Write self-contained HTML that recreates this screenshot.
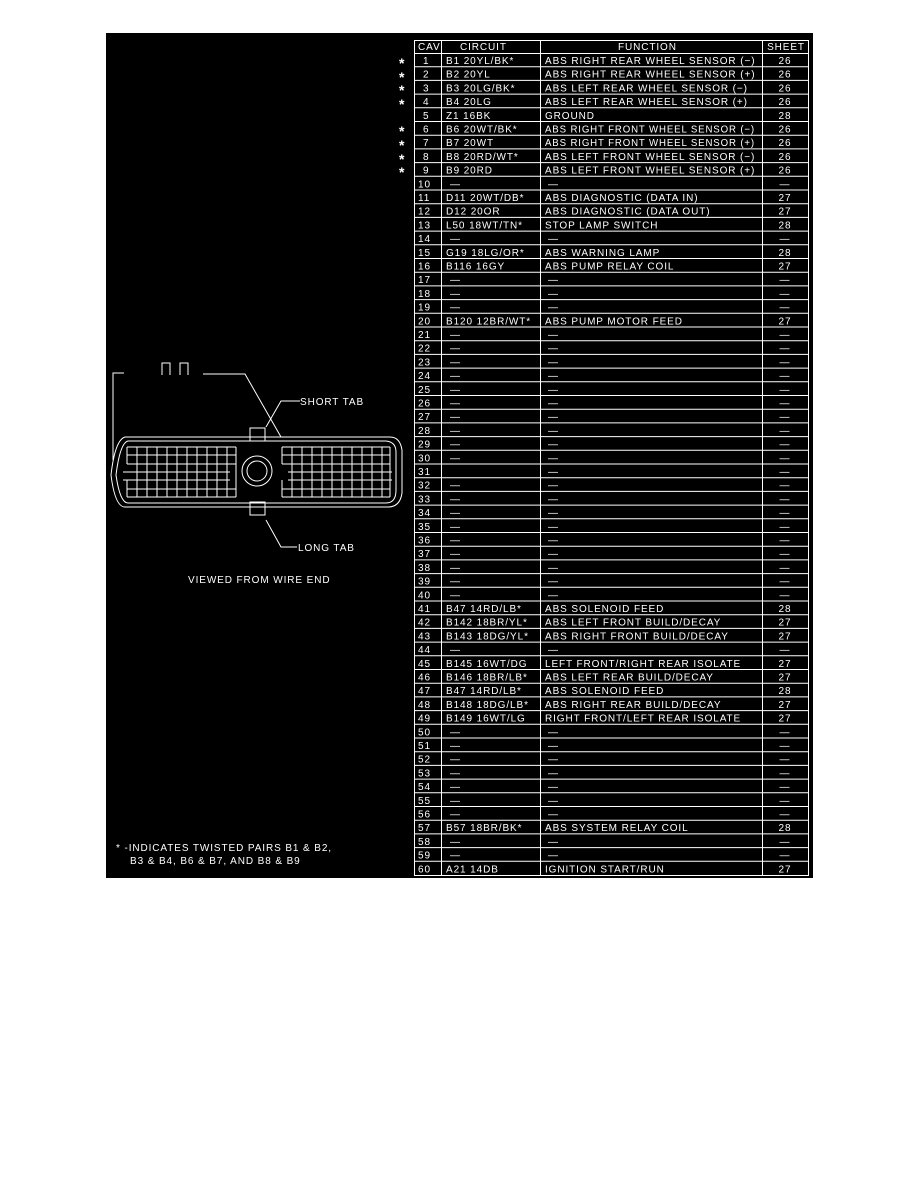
<!DOCTYPE html>
<html><head><meta charset="utf-8"><style>
html,body{margin:0;padding:0;background:#fff;width:918px;height:1188px;overflow:hidden}
svg{position:absolute;left:0;top:0}
text{font-family:"Liberation Sans",sans-serif;font-size:10px;fill:#fff;letter-spacing:0.9px}
.s{text-anchor:middle}
.a{font-size:14px;font-weight:bold}
</style></head><body>
<svg width="918" height="1188" viewBox="0 0 918 1188">
<rect x="106" y="33" width="707" height="845" fill="#000"/>
<g stroke="#fff" stroke-width="1" fill="none">
<rect x="414.5" y="40.5" width="394" height="835"/>
<line x1="441.5" y1="40" x2="441.5" y2="876"/>
<line x1="540.5" y1="40" x2="540.5" y2="876"/>
<line x1="762.5" y1="40" x2="762.5" y2="876"/>
<path d="M414 53.5H809M414 66.7H809M414 80.4H809M414 94.1H809M414 107.8H809M414 121.5H809M414 135.2H809M414 148.9H809M414 162.6H809M414 176.3H809M414 190H809M414 203.7H809M414 217.4H809M414 231.1H809M414 244.8H809M414 258.5H809M414 272.2H809M414 285.9H809M414 299.6H809M414 313.3H809M414 327H809M414 340.7H809M414 354.4H809M414 368.1H809M414 381.8H809M414 395.5H809M414 409.2H809M414 422.9H809M414 436.6H809M414 450.3H809M414 464H809M414 477.7H809M414 491.4H809M414 505.1H809M414 518.8H809M414 532.5H809M414 546.2H809M414 559.9H809M414 573.6H809M414 587.3H809M414 601H809M414 614.7H809M414 628.4H809M414 642.1H809M414 655.8H809M414 669.5H809M414 683.2H809M414 696.9H809M414 710.6H809M414 724.3H809M414 738H809M414 751.7H809M414 765.4H809M414 779.1H809M414 792.8H809M414 806.5H809M414 820.2H809M414 833.9H809M414 847.6H809M414 861.3H809"/>
</g>
<text x="418" y="50">CAV</text><text x="460" y="50">CIRCUIT</text><text x="618" y="50">FUNCTION</text><text x="786" y="50" class="s">SHEET</text>
<g>
<text class="a" x="399" y="68">*</text><text class="a" x="399" y="82">*</text><text class="a" x="399" y="95">*</text><text class="a" x="399" y="109">*</text><text class="a" x="399" y="136">*</text><text class="a" x="399" y="150">*</text><text class="a" x="399" y="164">*</text><text class="a" x="399" y="177">*</text>
</g>
<g>
<text x="423" y="64">1</text><text x="446" y="64">B1 20YL/BK*</text><text x="545" y="64">ABS RIGHT REAR WHEEL SENSOR (−)</text><text x="785" y="64" class="s">26</text>
<text x="423" y="77.7">2</text><text x="446" y="77.7">B2 20YL</text><text x="545" y="77.7">ABS RIGHT REAR WHEEL SENSOR (+)</text><text x="785" y="77.7" class="s">26</text>
<text x="423" y="91.4">3</text><text x="446" y="91.4">B3 20LG/BK*</text><text x="545" y="91.4">ABS LEFT REAR WHEEL SENSOR (−)</text><text x="785" y="91.4" class="s">26</text>
<text x="423" y="105.1">4</text><text x="446" y="105.1">B4 20LG</text><text x="545" y="105.1">ABS LEFT REAR WHEEL SENSOR (+)</text><text x="785" y="105.1" class="s">26</text>
<text x="423" y="118.8">5</text><text x="446" y="118.8">Z1 16BK</text><text x="545" y="118.8">GROUND</text><text x="785" y="118.8" class="s">28</text>
<text x="423" y="132.5">6</text><text x="446" y="132.5">B6 20WT/BK*</text><text x="545" y="132.5" textLength="210" lengthAdjust="spacingAndGlyphs">ABS RIGHT FRONT WHEEL SENSOR (−)</text><text x="785" y="132.5" class="s">26</text>
<text x="423" y="146.2">7</text><text x="446" y="146.2">B7 20WT</text><text x="545" y="146.2" textLength="210" lengthAdjust="spacingAndGlyphs">ABS RIGHT FRONT WHEEL SENSOR (+)</text><text x="785" y="146.2" class="s">26</text>
<text x="423" y="159.9">8</text><text x="446" y="159.9">B8 20RD/WT*</text><text x="545" y="159.9">ABS LEFT FRONT WHEEL SENSOR (−)</text><text x="785" y="159.9" class="s">26</text>
<text x="423" y="173.6">9</text><text x="446" y="173.6">B9 20RD</text><text x="545" y="173.6">ABS LEFT FRONT WHEEL SENSOR (+)</text><text x="785" y="173.6" class="s">26</text>
<text x="418" y="187.3">10</text><text x="450" y="187.3">—</text><text x="548" y="187.3">—</text><text x="785" y="187.3" class="s">—</text>
<text x="418" y="201">11</text><text x="446" y="201">D11 20WT/DB*</text><text x="545" y="201">ABS DIAGNOSTIC (DATA IN)</text><text x="785" y="201" class="s">27</text>
<text x="418" y="214.7">12</text><text x="446" y="214.7">D12 20OR</text><text x="545" y="214.7">ABS DIAGNOSTIC (DATA OUT)</text><text x="785" y="214.7" class="s">27</text>
<text x="418" y="228.4">13</text><text x="446" y="228.4">L50 18WT/TN*</text><text x="545" y="228.4">STOP LAMP SWITCH</text><text x="785" y="228.4" class="s">28</text>
<text x="418" y="242.1">14</text><text x="450" y="242.1">—</text><text x="548" y="242.1">—</text><text x="785" y="242.1" class="s">—</text>
<text x="418" y="255.8">15</text><text x="446" y="255.8">G19 18LG/OR*</text><text x="545" y="255.8">ABS WARNING LAMP</text><text x="785" y="255.8" class="s">28</text>
<text x="418" y="269.5">16</text><text x="446" y="269.5">B116 16GY</text><text x="545" y="269.5">ABS PUMP RELAY COIL</text><text x="785" y="269.5" class="s">27</text>
<text x="418" y="283.2">17</text><text x="450" y="283.2">—</text><text x="548" y="283.2">—</text><text x="785" y="283.2" class="s">—</text>
<text x="418" y="296.9">18</text><text x="450" y="296.9">—</text><text x="548" y="296.9">—</text><text x="785" y="296.9" class="s">—</text>
<text x="418" y="310.6">19</text><text x="450" y="310.6">—</text><text x="548" y="310.6">—</text><text x="785" y="310.6" class="s">—</text>
<text x="418" y="324.3">20</text><text x="446" y="324.3">B120 12BR/WT*</text><text x="545" y="324.3">ABS PUMP MOTOR FEED</text><text x="785" y="324.3" class="s">27</text>
<text x="418" y="338">21</text><text x="450" y="338">—</text><text x="548" y="338">—</text><text x="785" y="338" class="s">—</text>
<text x="418" y="351.7">22</text><text x="450" y="351.7">—</text><text x="548" y="351.7">—</text><text x="785" y="351.7" class="s">—</text>
<text x="418" y="365.4">23</text><text x="450" y="365.4">—</text><text x="548" y="365.4">—</text><text x="785" y="365.4" class="s">—</text>
<text x="418" y="379.1">24</text><text x="450" y="379.1">—</text><text x="548" y="379.1">—</text><text x="785" y="379.1" class="s">—</text>
<text x="418" y="392.8">25</text><text x="450" y="392.8">—</text><text x="548" y="392.8">—</text><text x="785" y="392.8" class="s">—</text>
<text x="418" y="406.5">26</text><text x="450" y="406.5">—</text><text x="548" y="406.5">—</text><text x="785" y="406.5" class="s">—</text>
<text x="418" y="420.2">27</text><text x="450" y="420.2">—</text><text x="548" y="420.2">—</text><text x="785" y="420.2" class="s">—</text>
<text x="418" y="433.9">28</text><text x="450" y="433.9">—</text><text x="548" y="433.9">—</text><text x="785" y="433.9" class="s">—</text>
<text x="418" y="447.6">29</text><text x="450" y="447.6">—</text><text x="548" y="447.6">—</text><text x="785" y="447.6" class="s">—</text>
<text x="418" y="461.3">30</text><text x="450" y="461.3">—</text><text x="548" y="461.3">—</text><text x="785" y="461.3" class="s">—</text>
<text x="418" y="475">31</text><text x="548" y="475">—</text><text x="785" y="475" class="s">—</text>
<text x="418" y="488.7">32</text><text x="450" y="488.7">—</text><text x="548" y="488.7">—</text><text x="785" y="488.7" class="s">—</text>
<text x="418" y="502.4">33</text><text x="450" y="502.4">—</text><text x="548" y="502.4">—</text><text x="785" y="502.4" class="s">—</text>
<text x="418" y="516.1">34</text><text x="450" y="516.1">—</text><text x="548" y="516.1">—</text><text x="785" y="516.1" class="s">—</text>
<text x="418" y="529.8">35</text><text x="450" y="529.8">—</text><text x="548" y="529.8">—</text><text x="785" y="529.8" class="s">—</text>
<text x="418" y="543.5">36</text><text x="450" y="543.5">—</text><text x="548" y="543.5">—</text><text x="785" y="543.5" class="s">—</text>
<text x="418" y="557.2">37</text><text x="450" y="557.2">—</text><text x="548" y="557.2">—</text><text x="785" y="557.2" class="s">—</text>
<text x="418" y="570.9">38</text><text x="450" y="570.9">—</text><text x="548" y="570.9">—</text><text x="785" y="570.9" class="s">—</text>
<text x="418" y="584.6">39</text><text x="450" y="584.6">—</text><text x="548" y="584.6">—</text><text x="785" y="584.6" class="s">—</text>
<text x="418" y="598.3">40</text><text x="450" y="598.3">—</text><text x="548" y="598.3">—</text><text x="785" y="598.3" class="s">—</text>
<text x="418" y="612">41</text><text x="446" y="612">B47 14RD/LB*</text><text x="545" y="612">ABS SOLENOID FEED</text><text x="785" y="612" class="s">28</text>
<text x="418" y="625.7">42</text><text x="446" y="625.7">B142 18BR/YL*</text><text x="545" y="625.7">ABS LEFT FRONT BUILD/DECAY</text><text x="785" y="625.7" class="s">27</text>
<text x="418" y="639.4">43</text><text x="446" y="639.4">B143 18DG/YL*</text><text x="545" y="639.4">ABS RIGHT FRONT BUILD/DECAY</text><text x="785" y="639.4" class="s">27</text>
<text x="418" y="653.1">44</text><text x="450" y="653.1">—</text><text x="548" y="653.1">—</text><text x="785" y="653.1" class="s">—</text>
<text x="418" y="666.8">45</text><text x="446" y="666.8">B145 16WT/DG</text><text x="545" y="666.8">LEFT FRONT/RIGHT REAR ISOLATE</text><text x="785" y="666.8" class="s">27</text>
<text x="418" y="680.5">46</text><text x="446" y="680.5">B146 18BR/LB*</text><text x="545" y="680.5">ABS LEFT REAR BUILD/DECAY</text><text x="785" y="680.5" class="s">27</text>
<text x="418" y="694.2">47</text><text x="446" y="694.2">B47 14RD/LB*</text><text x="545" y="694.2">ABS SOLENOID FEED</text><text x="785" y="694.2" class="s">28</text>
<text x="418" y="707.9">48</text><text x="446" y="707.9">B148 18DG/LB*</text><text x="545" y="707.9">ABS RIGHT REAR BUILD/DECAY</text><text x="785" y="707.9" class="s">27</text>
<text x="418" y="721.6">49</text><text x="446" y="721.6">B149 16WT/LG</text><text x="545" y="721.6">RIGHT FRONT/LEFT REAR ISOLATE</text><text x="785" y="721.6" class="s">27</text>
<text x="418" y="735.3">50</text><text x="450" y="735.3">—</text><text x="548" y="735.3">—</text><text x="785" y="735.3" class="s">—</text>
<text x="418" y="749">51</text><text x="450" y="749">—</text><text x="548" y="749">—</text><text x="785" y="749" class="s">—</text>
<text x="418" y="762.7">52</text><text x="450" y="762.7">—</text><text x="548" y="762.7">—</text><text x="785" y="762.7" class="s">—</text>
<text x="418" y="776.4">53</text><text x="450" y="776.4">—</text><text x="548" y="776.4">—</text><text x="785" y="776.4" class="s">—</text>
<text x="418" y="790.1">54</text><text x="450" y="790.1">—</text><text x="548" y="790.1">—</text><text x="785" y="790.1" class="s">—</text>
<text x="418" y="803.8">55</text><text x="450" y="803.8">—</text><text x="548" y="803.8">—</text><text x="785" y="803.8" class="s">—</text>
<text x="418" y="817.5">56</text><text x="450" y="817.5">—</text><text x="548" y="817.5">—</text><text x="785" y="817.5" class="s">—</text>
<text x="418" y="831.2">57</text><text x="446" y="831.2">B57 18BR/BK*</text><text x="545" y="831.2">ABS SYSTEM RELAY COIL</text><text x="785" y="831.2" class="s">28</text>
<text x="418" y="844.9">58</text><text x="450" y="844.9">—</text><text x="548" y="844.9">—</text><text x="785" y="844.9" class="s">—</text>
<text x="418" y="858.6">59</text><text x="450" y="858.6">—</text><text x="548" y="858.6">—</text><text x="785" y="858.6" class="s">—</text>
<text x="418" y="872.3">60</text><text x="446" y="872.3">A21 14DB</text><text x="545" y="872.3">IGNITION START/RUN</text><text x="785" y="872.3" class="s">27</text>
</g>
<g stroke="#fff" stroke-width="1" fill="none">
<path d="M162 375V363H170V375M180 375V363H188V375"/>
<path d="M124 373H113V460"/>
<path d="M203 374H245L281 437"/>
<path d="M300 401H281L266 427"/>
<path d="M297 547H281L266 520"/>
<path d="M125 437H390Q400 437 402 450L402 493Q400 507 388 507H125Q115 507 111 475Q115 440 125 437Z"/>
<path d="M128 441H386Q396 442 396 452V490Q396 503 386 503H128Q120 503 116 475Q120 443 128 441Z"/>
<rect x="250" y="428" width="15" height="13"/>
<rect x="250" y="502" width="15" height="13"/>
<circle cx="257" cy="471" r="15"/>
<circle cx="257" cy="471" r="10"/>
<path d="M127 447H236M127 455H236M127 464H236M123 472H230M123 480H230M127 489H236M127 497H236"/>
<path d="M137 447V497M147 447V497M157 447V497M167 447V497M177 447V497M187 447V497M197 447V497M207 447V497M217 447V497M227 447V497M236 447V497M127 447V464M127 480V497"/>
<path d="M282 447H390M282 455H390M282 464H390M288 472H392M288 480H392M282 489H390M282 497H390"/>
<path d="M292 447V497M302 447V497M312 447V497M322 447V497M332 447V497M342 447V497M352 447V497M362 447V497M372 447V497M382 447V497M390 447V497M282 447V464M282 480V497"/>
</g>
<text x="300" y="405">SHORT TAB</text>
<text x="298" y="551">LONG TAB</text>
<text x="188" y="583">VIEWED FROM WIRE END</text>
<text x="116" y="851">* -INDICATES TWISTED PAIRS B1 &amp; B2,</text>
<text x="130" y="864">B3 &amp; B4, B6 &amp; B7, AND B8 &amp; B9</text>
</svg>
</body></html>
